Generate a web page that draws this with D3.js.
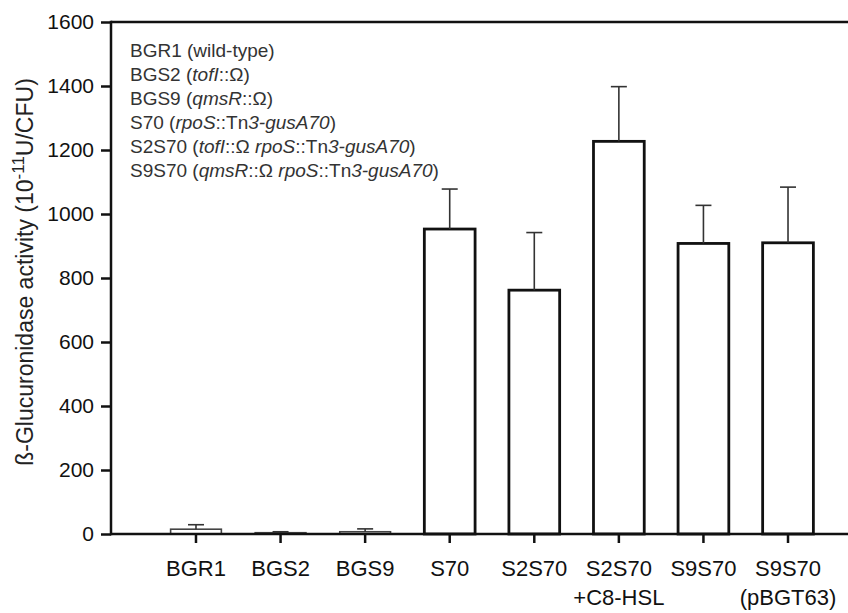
<!DOCTYPE html>
<html>
<head>
<meta charset="utf-8">
<script src="https://cdn.jsdelivr.net/npm/d3@7"></script>
<style>
  html, body { margin: 0; padding: 0; background: #fff; }
  svg { display: block; font-family: Arial, "Liberation Sans", Helvetica, sans-serif; }
</style>
</head>
<body>
<svg id="chart" width="848" height="613"></svg>
<script>
// Strains (x-axis labels, one entry per line)
const categories = ["BGR1", "BGS2", "BGS9", "S70", "S2S70", "S2S70 +C8-HSL", "S9S70", "S9S70 (pBGT63)"];
const categoryLines = [["BGR1"], ["BGS2"], ["BGS9"], ["S70"], ["S2S70"], ["S2S70", "+C8-HSL"], ["S9S70"], ["S9S70", "(pBGT63)"]];
// Mean β-glucuronidase activity and standard deviation
const activity = [15, 4, 7, 953, 762, 1227, 908, 910];
const errors = [14, 3, 9, 125, 180, 171, 119, 174];
const yTicks = [0, 200, 400, 600, 800, 1000, 1200, 1400, 1600];

// Strain key: [text, italic?] segments
const strainKey = [
  [["BGR1 (wild-type)", false]],
  [["BGS2 (", false], ["tofI", true], ["::Ω)", false]],
  [["BGS9 (", false], ["qmsR", true], ["::Ω)", false]],
  [["S70 (", false], ["rpoS", true], ["::Tn", false], ["3-gusA70", true], [")", false]],
  [["S2S70 (", false], ["tofI", true], ["::Ω ", false], ["rpoS", true], ["::Tn", false], ["3-gusA70", true], [")", false]],
  [["S9S70 (", false], ["qmsR", true], ["::Ω ", false], ["rpoS", true], ["::Tn", false], ["3-gusA70", true], [")", false]]
];

const svg = d3.select("#chart");
const plotLeft = 111, plotRight = 848, plotTop = 22, plotBottom = 534;

const x = d3.scaleBand()
  .domain(categories)
  .range([153.7, 830.3])
  .paddingInner(0.4)
  .paddingOuter(0.2);

const y = d3.scaleLinear().domain([0, 1600]).range([plotBottom, plotTop]);

// Y axis
const yAxis = svg.append("g")
  .attr("transform", `translate(${plotLeft},0)`)
  .call(d3.axisLeft(y).tickValues(yTicks).tickSize(10).tickPadding(7).tickFormat(d3.format("d")));
yAxis.select(".domain").remove();
yAxis.selectAll(".tick line").attr("stroke", "#111").attr("stroke-width", 2.5);
yAxis.selectAll(".tick text").attr("fill", "#111").style("font-size", "21px");

// Frame lines: left and top
svg.append("line").attr("x1", plotLeft).attr("x2", plotLeft).attr("y1", plotTop - 1.25).attr("y2", plotBottom + 1.25)
  .attr("stroke", "#111").attr("stroke-width", 2.5);
svg.append("line").attr("x1", plotLeft).attr("x2", plotRight).attr("y1", plotTop).attr("y2", plotTop)
  .attr("stroke", "#111").attr("stroke-width", 2.5);

// Bars
const bars = svg.append("g");
categories.forEach((c, i) => {
  const h = y(0) - y(activity[i]);
  const small = h < 10;
  bars.append("rect")
    .attr("x", x(c))
    .attr("y", y(activity[i]))
    .attr("width", x.bandwidth())
    .attr("height", h)
    .attr("fill", "#fff")
    .attr("stroke", small ? "#444" : "#111")
    .attr("stroke-width", small ? 1.6 : 2.8);
});

// Error bars (upper only)
const err = svg.append("g").attr("stroke", "#333").attr("stroke-width", 1.6);
categories.forEach((c, i) => {
  const cx = x(c) + x.bandwidth() / 2;
  err.append("line").attr("x1", cx).attr("x2", cx)
    .attr("y1", y(activity[i])).attr("y2", y(activity[i] + errors[i]));
  err.append("line").attr("x1", cx - 8).attr("x2", cx + 8)
    .attr("y1", y(activity[i] + errors[i])).attr("y2", y(activity[i] + errors[i]));
});

// X axis
const xAxis = svg.append("g")
  .attr("transform", `translate(0,${plotBottom})`)
  .call(d3.axisBottom(x).tickSize(9).tickFormat(""));
xAxis.select(".domain").remove();
xAxis.selectAll(".tick line").attr("stroke", "#111").attr("stroke-width", 2.5);
svg.append("line").attr("x1", plotLeft).attr("x2", plotRight).attr("y1", plotBottom).attr("y2", plotBottom)
  .attr("stroke", "#111").attr("stroke-width", 2.5);

// X labels
categories.forEach((c, i) => {
  const t = svg.append("text")
    .attr("x", x(c) + x.bandwidth() / 2)
    .attr("y", 576)
    .attr("text-anchor", "middle")
    .attr("fill", "#111")
    .style("font-size", "22px");
  categoryLines[i].forEach((line, j) => {
    t.append("tspan").attr("x", x(c) + x.bandwidth() / 2).attr("dy", j === 0 ? 0 : 29).text(line);
  });
});

// Y axis title
const yt = svg.append("text")
  .attr("transform", "translate(33,272) rotate(-90)")
  .attr("text-anchor", "middle")
  .attr("fill", "#222")
  .style("font-size", "23px");
yt.append("tspan").text("ß-Glucuronidase activity (10");
yt.append("tspan").attr("dy", -9).style("font-size", "17px").text("-11");
yt.append("tspan").attr("dy", 9).text("U/CFU)");

// Strain key
const key = svg.append("g").attr("fill", "#333").style("font-size", "19px");
strainKey.forEach((segs, i) => {
  const t = key.append("text").attr("x", 130).attr("y", 57 + i * 24);
  segs.forEach(([s, it]) => {
    t.append("tspan").style("font-style", it ? "italic" : "normal").text(s);
  });
});
</script>
</body>
</html>
